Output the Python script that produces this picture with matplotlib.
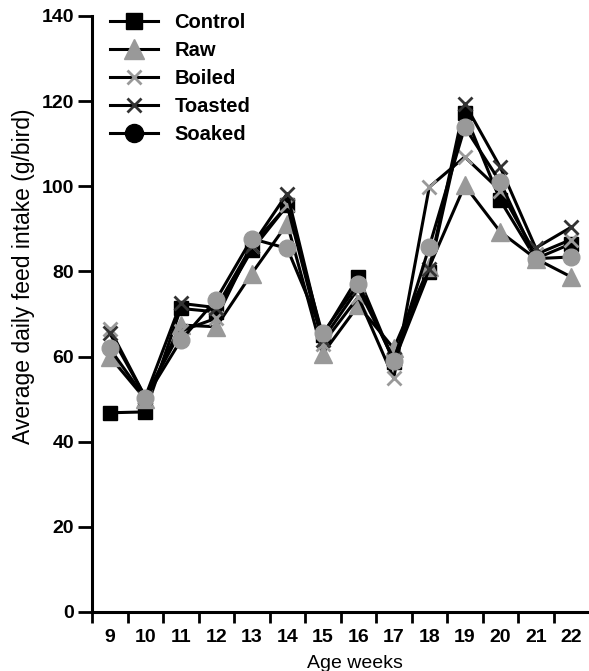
import matplotlib
matplotlib.use('Agg')
import matplotlib.pyplot as plt
from matplotlib.lines import Line2D

plt.rcParams['font.family'] = ['Liberation Sans', 'DejaVu Sans']

weeks = [9, 10, 11, 12, 13, 14, 15, 16, 17, 18, 19, 20, 21, 22]
control = [46.8, 47.0, 71.3, 70.5, 85.0, 95.5, 65.0, 78.7, 58.8, 79.9, 117.1, 96.7, 83.0, 86.5]
raw = [60.0, 50.0, 67.4, 67.0, 79.5, 91.2, 60.7, 72.0, 61.9, 81.1, 100.2, 89.3, 83.0, 78.7]
boiled = [66.5, 50.5, 66.0, 69.0, 86.0, 95.5, 63.0, 74.0, 54.9, 99.8, 106.9, 99.0, 84.0, 87.5]
toasted = [65.5, 50.5, 72.5, 71.5, 86.0, 98.3, 64.0, 76.0, 59.5, 80.5, 119.4, 104.5, 85.5, 90.4]
soaked = [61.9, 50.2, 63.8, 73.4, 87.7, 85.4, 65.5, 77.0, 59.0, 85.8, 113.9, 101.0, 83.0, 83.4]
labels = ['Control', 'Raw', 'Boiled', 'Toasted', 'Soaked']

gray = '#999999'
dark = '#333333'

fig = plt.figure(figsize=(5.89, 6.71), dpi=100)
ax = fig.add_axes([92/589, 1-612/671, 1-92/589, (612-16)/671])

lw = 2.2
ax.plot(weeks, control, color='black', lw=lw, marker='s', ms=9.5, mfc='black', mec='black', zorder=3)
ax.plot(weeks, raw, color='black', lw=lw, marker='^', ms=13, mfc=gray, mec=gray, zorder=3)
ax.plot(weeks, boiled, color='black', lw=lw, marker='x', ms=9.5, mew=2.0, mec=gray, zorder=3)
ax.plot(weeks, toasted, color='black', lw=lw, marker='x', ms=9.5, mew=2.0, mec=dark, zorder=3)
ax.plot(weeks, soaked, color='black', lw=lw, marker='o', ms=12, mfc=gray, mec=gray, zorder=3)

handles = [
    Line2D([], [], color='black', lw=lw, marker='s', ms=11, mfc='black', mec='black'),
    Line2D([], [], color='black', lw=lw, marker='^', ms=14, mfc=gray, mec=gray),
    Line2D([], [], color='black', lw=lw, marker='x', ms=9.5, mew=2.0, mec=gray),
    Line2D([], [], color='black', lw=lw, marker='x', ms=9.5, mew=2.0, mec=dark),
    Line2D([], [], color='black', lw=lw, marker='o', ms=13, mfc='black', mec='black'),
]
leg = ax.legend(handles, labels, loc='upper left', bbox_to_anchor=(0.0, 1.035), frameon=False,
                prop={'size': 14.5, 'weight': 'bold'}, handlelength=2.4, labelspacing=0.44,
                handletextpad=0.8, borderaxespad=0.5)

ax.set_xlim(8.5, 22.5)
ax.set_ylim(0, 140)
major_x = [w - 0.5 for w in weeks]
ax.set_xticks(major_x)
ax.set_xticklabels([])
ax.set_xticks(weeks, minor=True)
ax.set_xticklabels([str(w) for w in weeks], minor=True)
ax.tick_params(axis='x', which='minor', length=0, pad=12, labelsize=14)
ax.tick_params(axis='x', which='major', length=8, width=2, direction='out')
ax.set_yticks(range(0, 141, 20))
ax.tick_params(axis='y', which='major', length=10, width=2, labelsize=14, pad=3)
for lab in ax.get_xticklabels(minor=True) + ax.get_yticklabels():
    lab.set_fontweight('bold')

for s in ['top', 'right']:
    ax.spines[s].set_visible(False)
for s in ['left', 'bottom']:
    ax.spines[s].set_linewidth(2.2)
ax.spines['left'].set_bounds(0, 140)

ax.set_xlabel('Age weeks', fontsize=14, labelpad=1)
ax.xaxis.set_label_coords((355 - 92) / 497, -0.072)
ax.set_ylabel('Average daily feed intake (g/bird)', fontsize=16.5)
ax.yaxis.set_label_coords(-0.115, (612 - 276) / 596)

fig.savefig('out.png', dpi=100)
